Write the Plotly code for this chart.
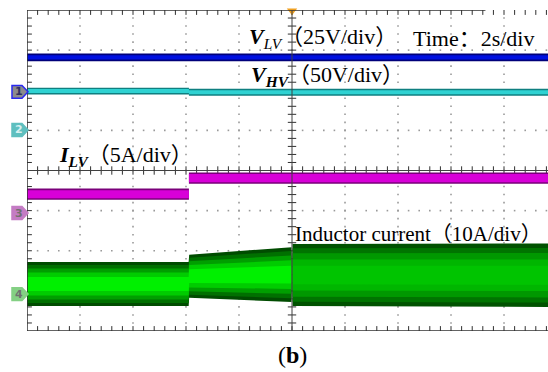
import numpy as np
import plotly.graph_objects as go

# Time axis in seconds (2 s/div), vertical axis in divisions (8 div tall)
T_END = 19.66

# V_LV (blue) level in div
vlv_t = [0.0, T_END]
vlv_y = [2.82, 2.82]

# V_HV (cyan) level in div, small shift at the load step
vhv_t = [0.0, 6.11, 6.11, T_END]
vhv_y = [1.98, 1.98, 1.95, 1.95]

# I_LV (magenta) level in div, step at ~6.1 s
ilv_t = [0.0, 6.11, 6.11, T_END]
ilv_y = [-0.59, -0.59, -0.19, -0.19]

# Inductor current envelope (green) in div
il_t = [0.0, 6.10, 6.12, 8.0, 9.98, 10.02, T_END]
il_top = [-2.28, -2.28, -2.10, -2.01, -1.91, -1.83, -1.82]
il_bot = [-3.38, -3.38, -3.17, -3.23, -3.28, -3.38, -3.40]

# Channel ground markers (div)
ch_names = ["1", "2", "3", "4"]
ch_levels = [1.96, 1.01, -1.06, -3.08]

FONT = "Liberation Serif, Times New Roman, Noto Sans CJK SC, serif"

fig = go.Figure()


def band(t, center, half, color, name):
    t = list(t)
    up = [c + half for c in center]
    lo = [c - half for c in center]
    fig.add_trace(go.Scatter(
        x=t + t[::-1], y=up + lo[::-1], fill="toself", fillcolor=color,
        mode="lines", line=dict(width=0), hoverinfo="skip", showlegend=False, name=name))


# --- graticule dots
gx_lines = [2, 4, 6, 8, 12, 14, 16, 18]
gy_pts = np.arange(-3.8, 3.81, 0.2)
dx, dy = [], []
for gx in gx_lines:
    dx += [gx] * len(gy_pts)
    dy += list(gy_pts)
gy_lines = [-3, -2, -1, 1, 2, 3]
gx_pts = np.arange(0.4, T_END, 0.4)
for gy in gy_lines:
    dx += list(gx_pts)
    dy += [gy] * len(gx_pts)
fig.add_trace(go.Scatter(x=dx, y=dy, mode="markers",
                         marker=dict(symbol="square", size=1.6, color="#9a9a9a", line=dict(width=0)),
                         hoverinfo="skip", showlegend=False))

# --- center axes with minor ticks
cx_t = np.arange(0.4, T_END, 0.4)
fig.add_trace(go.Scatter(x=cx_t, y=[0] * len(cx_t), mode="markers",
                         marker=dict(symbol="line-ns", size=6, line=dict(width=1, color="#303030")),
                         hoverinfo="skip", showlegend=False))
cy_t = np.arange(-3.8, 3.81, 0.2)
fig.add_trace(go.Scatter(x=[10] * len(cy_t), y=cy_t, mode="markers",
                         marker=dict(symbol="line-ew", size=6, line=dict(width=1, color="#303030")),
                         hoverinfo="skip", showlegend=False))
# border ticks (half clipped so they point inward)
fig.add_trace(go.Scatter(x=[0] * len(cy_t), y=cy_t, mode="markers",
                         marker=dict(symbol="line-ew", size=7, line=dict(width=1, color="#303030")),
                         hoverinfo="skip", showlegend=False))
fig.add_trace(go.Scatter(x=list(cx_t) * 2, y=[4] * len(cx_t) + [-4] * len(cx_t), mode="markers",
                         marker=dict(symbol="line-ns", size=7, line=dict(width=1, color="#303030")),
                         hoverinfo="skip", showlegend=False))

# --- waveforms
band(vlv_t, vlv_y, 0.095, "#00007a", "V_LV edge")
band(vlv_t, vlv_y, 0.055, "#0010e0", "V_LV")

band(vhv_t, vhv_y, 0.085, "#0f7f80", "V_HV edge")
band(vhv_t, vhv_y, 0.05, "#2fd2d2", "V_HV")

band(ilv_t, ilv_y, 0.14, "#7a007a", "I_LV edge")
band(ilv_t, ilv_y, 0.10, "#d800d8", "I_LV")

# inductor current: shaded envelope, brighter before the 10 s mark
il_c = [(a + b) / 2 for a, b in zip(il_top, il_bot)]
il_h = [(a - b) / 2 for a, b in zip(il_top, il_bot)]
split = 5  # index of the 10 s transition
left_idx = list(range(0, split))
right_idx = list(range(split, len(il_t)))
shades_left = [(1.0, "#004c00"), (0.86, "#007000"), (0.7, "#009e00"), (0.52, "#00cc00"), (0.32, "#00f000")]
shades_right = [(1.0, "#005200"), (0.86, "#007400"), (0.7, "#009800"), (0.5, "#00b600"), (0.3, "#00c400")]
for idx, shades in ((left_idx, shades_left), (right_idx, shades_right)):
    tt = [il_t[i] for i in idx]
    for k, col in shades:
        up = [il_c[i] + k * il_h[i] for i in idx]
        lo = [il_c[i] - k * il_h[i] for i in idx]
        fig.add_trace(go.Scatter(x=tt + tt[::-1], y=up + lo[::-1], fill="toself", fillcolor=col,
                                 mode="lines", line=dict(width=0), hoverinfo="skip", showlegend=False))

# trigger position marker
fig.add_trace(go.Scatter(x=[10], y=[3.98], mode="markers", cliponaxis=False,
                         marker=dict(symbol="triangle-down", size=9, color="#f0a020"),
                         hoverinfo="skip", showlegend=False))

shapes = []
# frame and centre lines
shapes.append(dict(type="line", xref="x", yref="y", x0=0, x1=0, y0=-4, y1=4, line=dict(color="#303030", width=1.5)))
shapes.append(dict(type="line", xref="x", yref="y", x0=0, x1=17.3, y0=4, y1=4, line=dict(color="#303030", width=1.5)))
shapes.append(dict(type="line", xref="x", yref="y", x0=0, x1=T_END, y0=-4, y1=-4, line=dict(color="#303030", width=1.5)))
shapes.append(dict(type="line", xref="x", yref="y", x0=0, x1=T_END, y0=0, y1=0, line=dict(color="#404040", width=1)))
shapes.append(dict(type="line", xref="x", yref="y", x0=10, x1=10, y0=-4, y1=4, line=dict(color="#404040", width=1)))

# channel ground markers left of the frame
ch_fill = ["#8c8c8c", "#5fbfbf", "#c47cc4", "#84d084"]
ch_line = ["#2a2af0", "#5fbfbf", "#c47cc4", "#84d084"]
ch_txt = ["#303060", "#d8f0f0", "#707070", "#707070"]
xa, xb, xc = -0.0288, -0.0096, 0.002
annotations = []
for name, lvl, fc, lc, tc in zip(ch_names, ch_levels, ch_fill, ch_line, ch_txt):
    h = 0.16
    path = (f"M {xa},{lvl - h} L {xb},{lvl - h} L {xc},{lvl} L {xb},{lvl + h} "
            f"L {xa},{lvl + h} Z")
    shapes.append(dict(type="path", xref="paper", yref="y", path=path,
                       fillcolor=fc, line=dict(color=lc, width=1.5), layer="above"))
    annotations.append(dict(x=-0.016, y=lvl, xref="paper", yref="y", text=f"<b>{name}</b>",
                            showarrow=False, font=dict(family="DejaVu Sans", size=11, color=tc),
                            xanchor="center", yanchor="middle"))

lab = dict(family=FONT, size=22, color="#000000")
annotations += [
    dict(x=8.30, y=3.30, xref="x", yref="y", xanchor="left", yanchor="middle", showarrow=False,
         text="<b><i>V</i></b><i><sub>LV</sub></i>（25V/div）", font=lab),
    dict(x=14.50, y=3.30, xref="x", yref="y", xanchor="left", yanchor="middle", showarrow=False,
         text="Time：2s/div", font=lab),
    dict(x=8.38, y=2.35, xref="x", yref="y", xanchor="left", yanchor="middle", showarrow=False,
         text="<b><i>V<sub>HV</sub></i></b>（50V/div）", font=lab),
    dict(x=1.15, y=0.37, xref="x", yref="y", xanchor="left", yanchor="middle", showarrow=False,
         text="<b><i>I<sub>LV</sub></i></b>（5A/div）", font=lab),
    dict(x=10.05, y=-1.58, xref="x", yref="y", xanchor="left", yanchor="middle", showarrow=False,
         text="Inductor current（10A/div）", font=dict(family=FONT, size=21, color="#000000")),
    dict(x=10.0, y=-0.075, xref="x", yref="paper", xanchor="center", yanchor="middle", showarrow=False,
         text="(<b>b</b>)", font=dict(family=FONT, size=24, color="#000000")),
]

fig.update_layout(
    width=548, height=372,
    margin=dict(l=27, r=0, t=10, b=41, pad=0),
    paper_bgcolor="white", plot_bgcolor="white",
    xaxis=dict(range=[0, T_END], visible=False, fixedrange=True),
    yaxis=dict(range=[-4, 4], visible=False, fixedrange=True),
    shapes=shapes, annotations=annotations, showlegend=False,
)

fig.write_html("out.html", config={"displayModeBar": False})
